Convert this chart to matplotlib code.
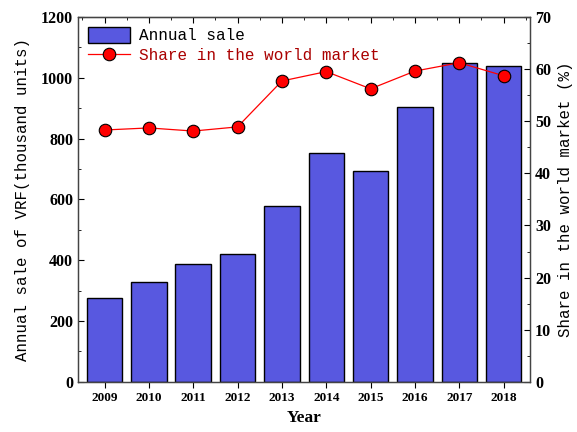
import numpy as np
import matplotlib
matplotlib.use("Agg")
from matplotlib import pyplot as plt
from matplotlib.ticker import MultipleLocator

# ======= Data =====================================================
years = ["2009", "2010", "2011", "2012", "2013", "2014", "2015", "2016", "2017", "2018"]
annual_sale = [276, 329, 388, 421, 579, 753, 694, 905, 1049, 1040]  # thousand units
world_share = [48.3, 48.7, 48.1, 48.9, 57.7, 59.5, 56.2, 59.6, 61.2, 58.7]  # %

MONO = "Liberation Mono"
SERIF = "Liberation Serif"
# ==================================================================


def main() -> None:
    fig = plt.figure(figsize=(5.77, 4.32), dpi=100)
    ax1 = fig.add_axes([0.135, 0.116, 0.784, 0.845])
    ax2 = ax1.twinx()

    x = np.arange(len(years))

    # 棒グラフ
    bars = ax1.bar(x, annual_sale, width=0.8, color="#5858e0", edgecolor="black",
                   linewidth=1.0, label="Annual sale", zorder=2)

    # 折れ線
    (line,) = ax2.plot(x, world_share, color="red", linewidth=0.9, marker="o",
                       markersize=9, markerfacecolor="red", markeredgecolor="black",
                       markeredgewidth=0.8, label="Share in the world market", zorder=3)

    ax1.set_xlim(-0.6, 9.6)
    ax1.set_ylim(0, 1200)
    ax2.set_ylim(0, 70)

    ax1.set_xticks(x)
    ax1.set_xticklabels(years, fontfamily=SERIF, fontweight="bold", fontsize=9.5)
    ax1.yaxis.set_major_locator(MultipleLocator(200))
    ax1.yaxis.set_minor_locator(MultipleLocator(100))
    ax2.yaxis.set_major_locator(MultipleLocator(10))
    ax2.yaxis.set_minor_locator(MultipleLocator(5))

    ax1.tick_params(axis="x", which="both", direction="out", top=False, length=4)
    ax1.tick_params(axis="y", which="both", direction="in", length=4)
    ax1.tick_params(axis="y", which="minor", length=2.5)
    ax2.tick_params(axis="y", which="both", direction="in", length=4)
    ax2.tick_params(axis="y", which="minor", length=2.5)

    for lab in ax1.get_yticklabels() + ax2.get_yticklabels():
        lab.set_fontfamily(SERIF)
        lab.set_fontweight("bold")
        lab.set_fontsize(11.5)

    # 上側の目盛り (内向き)
    secx = ax1.secondary_xaxis("top")
    secx.set_xticks(x)
    secx.xaxis.set_minor_locator(MultipleLocator(0.5))
    secx.tick_params(axis="x", which="both", direction="in", labeltop=False, length=4)
    secx.tick_params(axis="x", which="minor", length=2.5)

    for ax in (ax1, ax2):
        for sp in ax.spines.values():
            sp.set_color("#444444")
            sp.set_linewidth(0.9)

    ax1.set_xlabel("Year", fontfamily=SERIF, fontweight="bold", fontsize=12.5, labelpad=4)
    ax1.set_ylabel("Annual sale of VRF(thousand units)", fontfamily=MONO, fontsize=11.3,
                   labelpad=8)
    ax2.set_ylabel("Share in the world market (%)", fontfamily=MONO, fontsize=11.3,
                   labelpad=5)

    leg = ax1.legend([bars, line], ["Annual sale", "Share in the world market"],
                     loc="upper left", frameon=False, prop={"family": MONO, "size": 11.5},
                     handlelength=2.6, handleheight=1.1, borderaxespad=0.25,
                     handletextpad=0.6, labelspacing=0.25)
    leg.get_texts()[1].set_color("#aa0000")

    fig.savefig("out.png", dpi=100)
    plt.close(fig)


if __name__ == "__main__":
    main()
